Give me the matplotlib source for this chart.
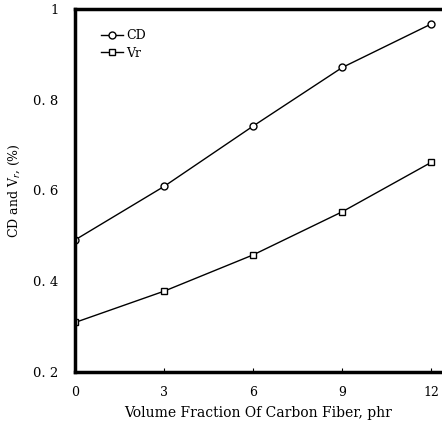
import matplotlib
matplotlib.use('Agg')
import matplotlib.pyplot as plt

# datos
fraccion = [0, 3, 6, 9, 12]
cd = [0.491, 0.609, 0.742, 0.871, 0.967]
vr = [0.309, 0.378, 0.458, 0.553, 0.662]
yticks = [0.2, 0.4, 0.6, 0.8, 1.0]
ytick_labels = ['0. 2', '0. 4', '0. 6', '0. 8', '1']

plt.rcParams['font.family'] = ['DejaVu Serif']

fig = plt.figure(figsize=(4.42, 4.26), dpi=100)
ax = fig.add_axes([0.170, 0.127, 0.826, 0.852])

ax.plot(fraccion, cd, color='black', lw=1, marker='o', ms=5,
        mfc='white', mec='black', mew=1, label='CD')
ax.plot(fraccion, vr, color='black', lw=1, marker='s', ms=5,
        mfc='white', mec='black', mew=1, label='Vr')

ax.set_xlim(0, 12.3)
ax.set_ylim(0.2, 1.0)
ax.set_xticks(fraccion)
ax.set_xticklabels([str(v) for v in fraccion], fontsize=9)
ax.set_yticks(yticks)
ax.set_yticklabels(ytick_labels, fontsize=9.5)
ax.tick_params(axis='x', direction='in', length=3, width=0.8, pad=10)
ax.tick_params(axis='y', length=0, pad=12)

for s in ['left', 'top', 'bottom']:
    ax.spines[s].set_linewidth(2.5)
ax.spines['right'].set_visible(False)

ax.set_xlabel('Volume Fraction Of Carbon Fiber, phr', fontsize=10, labelpad=5)
ax.set_ylabel('CD and V$_r$, (%)', fontsize=9, labelpad=8)

ax.legend(loc='upper left', frameon=False, fontsize=9, handlelength=1.8,
          handletextpad=0.2, labelspacing=0.35, borderaxespad=0.2,
          bbox_to_anchor=(0.05, 0.965))

fig.savefig('out.png', dpi=100)
